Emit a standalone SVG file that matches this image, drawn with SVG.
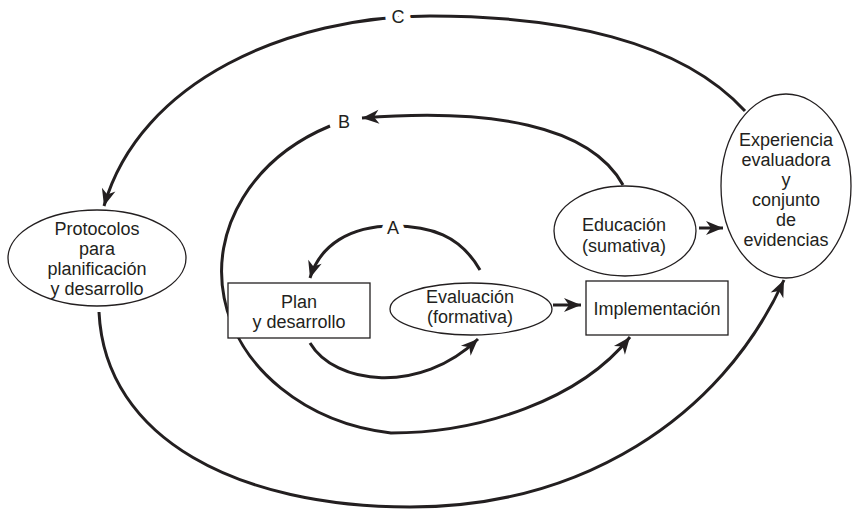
<svg xmlns="http://www.w3.org/2000/svg" width="852" height="510" viewBox="0 0 852 510">
  <style>
    .node { fill: #ffffff; stroke: #231f20; stroke-width: 1.3; }
    .label { font-family: "Liberation Sans", Arial, sans-serif; font-size: 18px; fill: #231f20; text-anchor: middle; }
    .loop { font-family: "Liberation Sans", Arial, sans-serif; font-size: 18px; fill: #231f20; text-anchor: middle; stroke: #ffffff; stroke-width: 14; paint-order: stroke; stroke-linejoin: round; }
    .link { fill: none; stroke: #231f20; stroke-width: 3; }
    .arrow { marker-end: url(#head); }
  </style>
  <defs>
    <marker id="head" markerUnits="userSpaceOnUse" markerWidth="20" markerHeight="16" viewBox="-18 -8 20 16" refX="0" refY="0" orient="auto">
      <path d="M0,0 L-17,-7 L-12,0 L-17,7 Z" fill="#231f20"/>
    </marker>
  </defs>
  <rect width="852" height="510" fill="#ffffff"/>

  <!-- connectors -->
  <g id="connectors">
    <!-- loop C: evidence back to planning protocols -->
    <path class="link arrow" d="M745,111 C680,40 560,16 430,16 C290,16 140,80 104,206"/>
    <!-- planning protocols to evidence, along the bottom -->
    <path class="link arrow" d="M99,312 C105,440 240,507 410,507 C580,507 720,420 784,280"/>
    <!-- loop B -->
    <path class="link arrow" d="M623,185 C590,125 490,108 362,118"/>
    <path class="link arrow" d="M330,126 A197,163 0 0 0 391,433 C480,433 580,400 630,337"/>
    <!-- loop A -->
    <path class="link arrow" d="M480,270 C460,235 430,226 393,226 C350,226 320,245 310,278"/>
    <path class="link arrow" d="M310,343 C335,385 420,395 478,339"/>
    <!-- straight links -->
    <path class="link arrow" d="M553,305 L581,305"/>
    <path class="link arrow" d="M699,228 L723,228"/>
    <text class="loop" x="398" y="23">C</text>
    <text class="loop" x="344" y="128">B</text>
    <text class="loop" x="393" y="234">A</text>
  </g>

  <g id="protocolos">
    <ellipse class="node" cx="97" cy="258" rx="89" ry="48"/>
    <text class="label" x="97" y="235">Protocolos</text>
    <text class="label" x="97" y="255">para</text>
    <text class="label" x="97" y="275">planificación</text>
    <text class="label" x="97" y="295">y desarrollo</text>
  </g>

  <g id="plan">
    <rect class="node" x="228" y="283" width="142" height="55"/>
    <text class="label" x="299" y="308">Plan</text>
    <text class="label" x="299" y="328">y desarrollo</text>
  </g>

  <g id="evaluacion">
    <ellipse class="node" cx="471" cy="309" rx="81" ry="26"/>
    <text class="label" x="470" y="303">Evaluación</text>
    <text class="label" x="470" y="323">(formativa)</text>
  </g>

  <g id="implementacion">
    <rect class="node" x="586" y="281" width="142" height="54"/>
    <text class="label" x="657" y="315">Implementación</text>
  </g>

  <g id="educacion">
    <ellipse class="node" cx="625" cy="231" rx="71" ry="45"/>
    <text class="label" x="624" y="231">Educación</text>
    <text class="label" x="624" y="252">(sumativa)</text>
  </g>

  <g id="experiencia">
    <ellipse class="node" cx="786" cy="186" rx="65" ry="92"/>
    <text class="label" x="786" y="146">Experiencia</text>
    <text class="label" x="786" y="166">evaluadora</text>
    <text class="label" x="786" y="186">y</text>
    <text class="label" x="786" y="206">conjunto</text>
    <text class="label" x="786" y="226">de</text>
    <text class="label" x="786" y="246">evidencias</text>
  </g>
</svg>
